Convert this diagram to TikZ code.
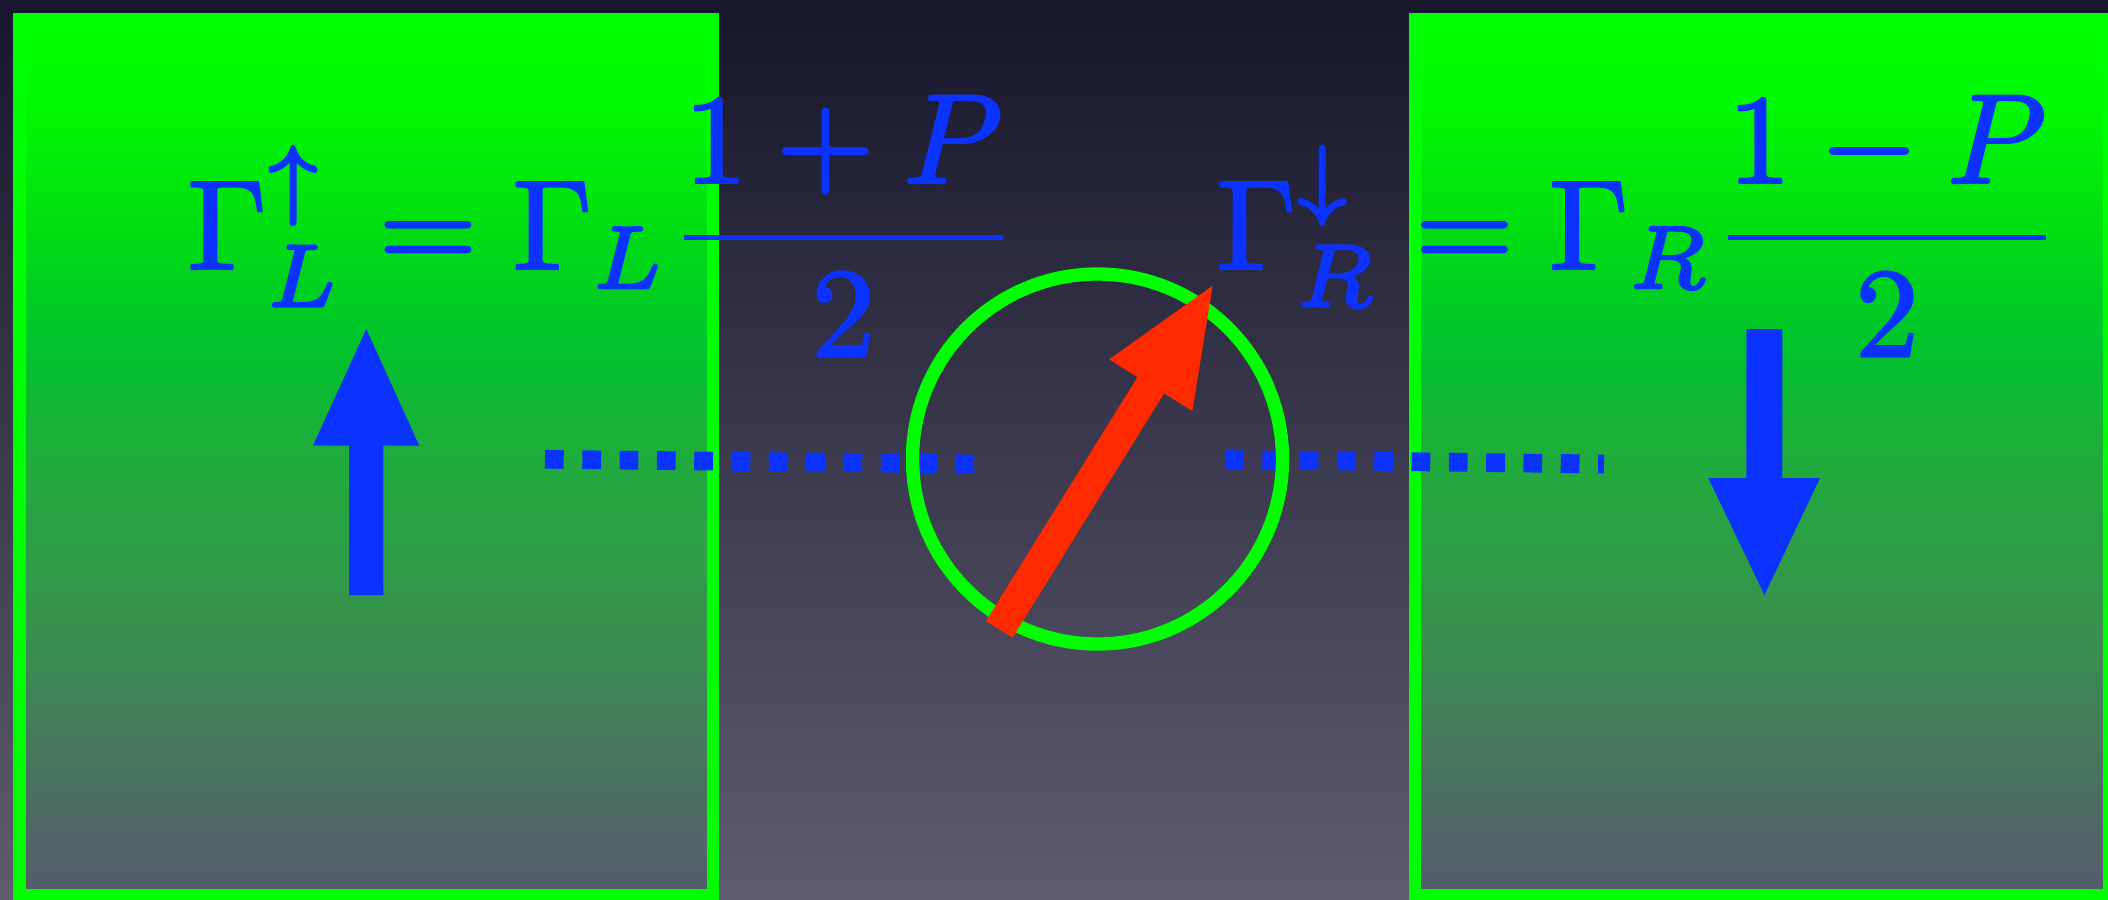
\documentclass[tikz,border=0pt]{standalone}
\usepackage{graphicx}
\definecolor{sblue}{RGB}{12,50,255}
\definecolor{sred}{RGB}{255,42,0}
\definecolor{sgreen}{RGB}{0,255,0}
\definecolor{bgtop}{RGB}{22,22,44}
\definecolor{bgmid}{RGB}{58,58,80}
\definecolor{bgbot}{RGB}{95,92,112}
\definecolor{gz}{RGB}{0,255,0}
\definecolor{ga}{RGB}{0,250,0}
\definecolor{gb}{RGB}{0,222,18}
\definecolor{gc}{RGB}{0,196,44}
\definecolor{gd}{RGB}{32,172,60}
\definecolor{ge}{RGB}{48,155,72}
\definecolor{gf}{RGB}{64,132,86}
\definecolor{gg}{RGB}{77,108,99}
\definecolor{gh}{RGB}{86,92,108}
\pgfdeclareverticalshading{boxshade}{100bp}{color(0bp)=(gh); color(25bp)=(gh); color(30.2bp)=(gg); color(36.8bp)=(gf); color(43.3bp)=(ge); color(49.9bp)=(gd); color(56.5bp)=(gc); color(63bp)=(gb); color(70.4bp)=(ga); color(75bp)=(gz); color(100bp)=(gz)}
\newcommand{\heavytext}[1]{\special{pdf:literal direct 2 Tr 0.2 w 1 j}#1\special{pdf:literal direct 0 Tr}}
\tikzset{
  boxline/.style={draw=sgreen, line width=3.56pt},
  boxfill/.style={shading=boxshade},
  dotline/.style={draw=sblue, line width=5.32pt, dash pattern=on 5.32pt off 5.29pt},
  formula/.style={inner sep=0pt, outer sep=0pt, text=sblue, anchor=base west},
  spinring/.style={draw=sgreen, line width=3.8pt},
}
\begin{document}
\begin{tikzpicture}[x=0.01cm,y=-0.01cm]
\useasboundingbox (0,0) rectangle (2108,900);
% background
\shade[top color=bgtop, middle color=bgmid, bottom color=bgbot] (0,0) rectangle (2108,900);
% leads
\shade[boxfill] (19.5,19) rectangle (713,895.5);
\draw[boxline] (19.5,19) rectangle (713,895.5);
\shade[boxfill] (1415,19) rectangle (2109,895.5);
\draw[boxline] (1415,19) rectangle (2109,895.5);
% dotted tunnelling lines
\coordinate (dla) at (545,459.3);
\coordinate (dlb) at (975,464);
\coordinate (dra) at (1225,459.5);
\coordinate (drb) at (1604,464);
\draw[dotline] (dla) -- (dlb);
\draw[dotline] (dra) -- (drb);
% dot
\coordinate (dot) at (1097.5,459);
\draw[spinring] (dot) circle (185);
% red spin arrow
\fill[sred] (985.9,621.2) -- (1137.5,377) -- (1109.2,359.4) -- (1212.5,285.8)
  -- (1192.4,411) -- (1164.1,393.4) -- (1012.5,637.6) -- cycle;
% blue spin arrows
\fill[sblue] (349,595) -- (383.3,595) -- (383.3,445.7) -- (419.3,445.7)
  -- (366.3,329) -- (313,445.7) -- (349,445.7) -- cycle;
\fill[sblue] (1746.3,329) -- (1782.3,329) -- (1782.3,478) -- (1820,478)
  -- (1764.5,595) -- (1708.3,478) -- (1746.3,478) -- cycle;
% formulas
\node[formula] (fl) at (187.4,269) {\heavytext{\scalebox{3.62}{$\displaystyle\Gamma_L^{\uparrow}=\Gamma_L\frac{1+P}{2}$}}};
\node[formula] (fr) at (1216.5,269) {\heavytext{\scalebox{3.62}{$\displaystyle\Gamma_R^{\downarrow}=\Gamma_R\frac{1-P}{2}$}}};
\end{tikzpicture}
\end{document}
